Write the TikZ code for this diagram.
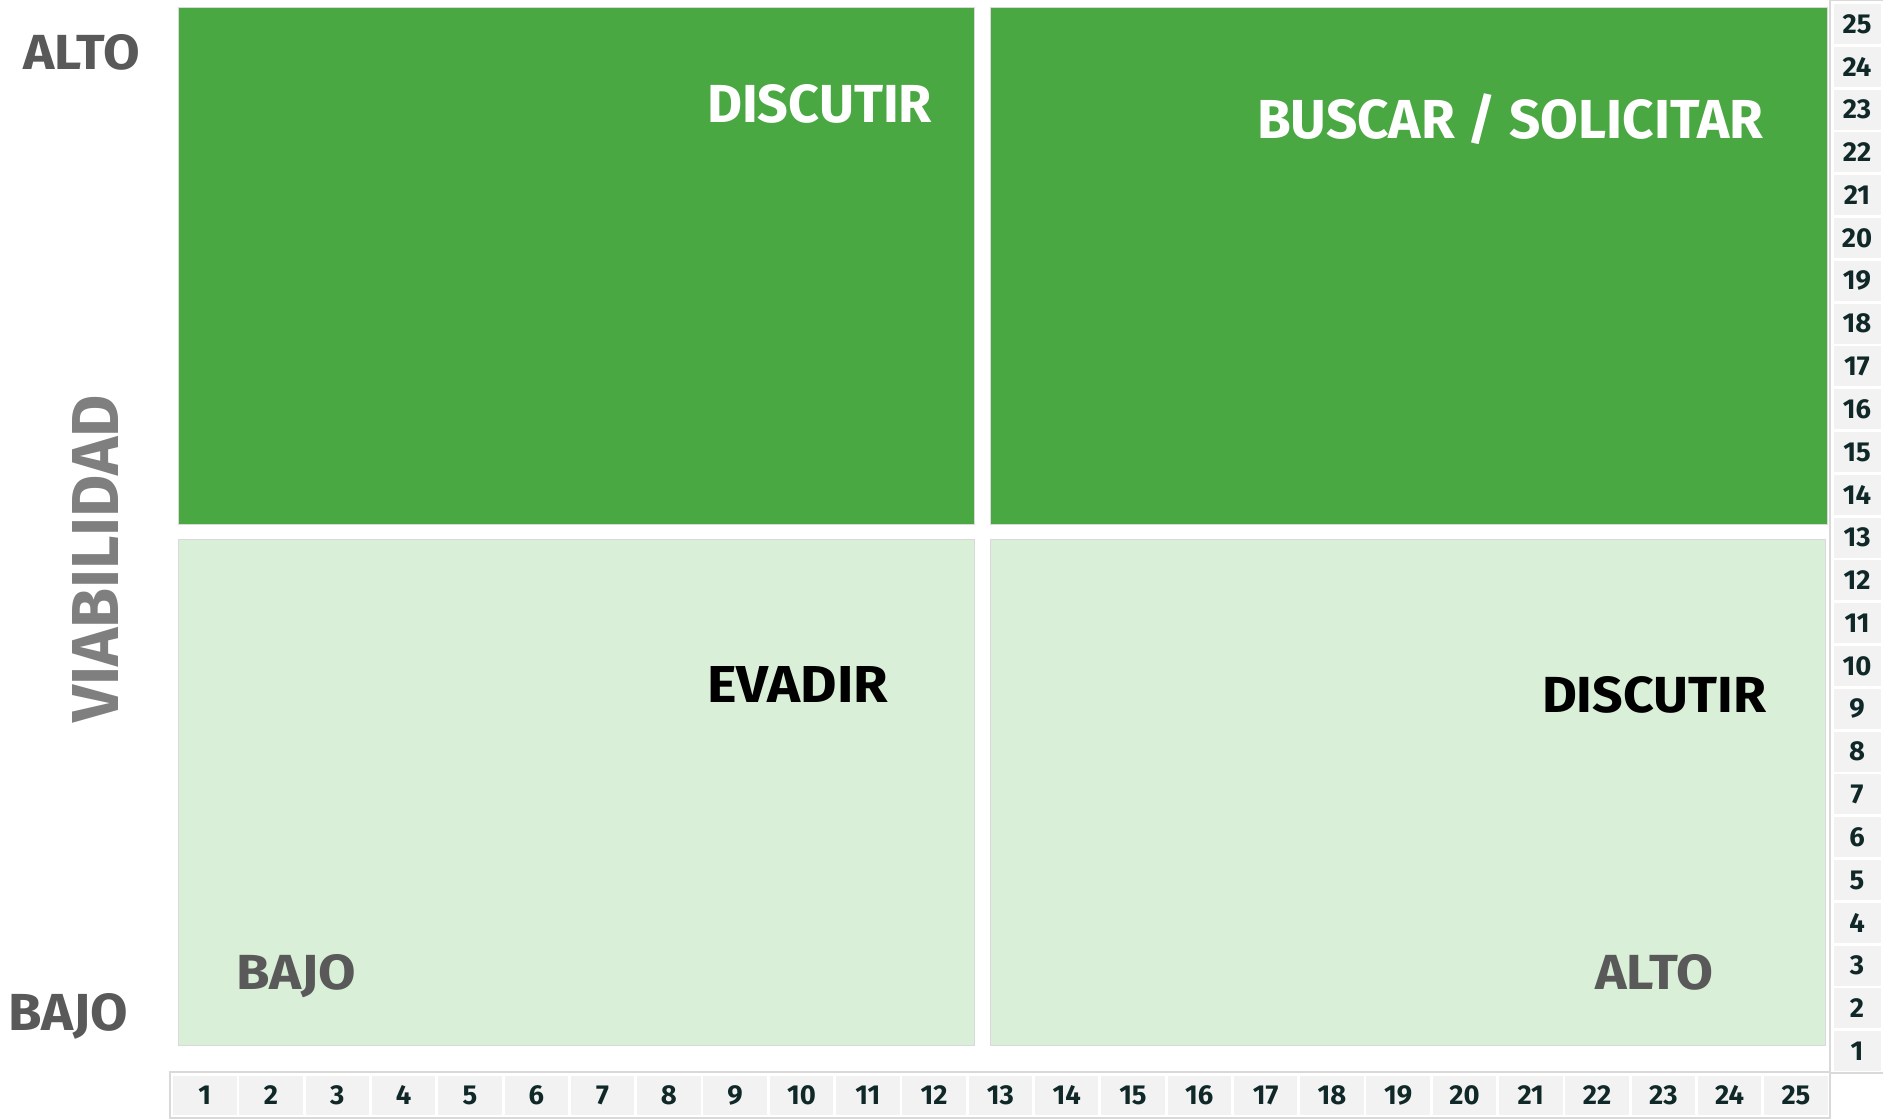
\documentclass[tikz,border=0pt]{standalone}
\usepackage{fontspec}
\setmainfont{Fira Sans}
\usepackage{graphicx}
\newlength\pxu
\setlength\pxu{0.1mm}
\newcommand{\fitbox}[3]{\resizebox{#1\pxu}{#2\pxu}{#3}}
\definecolor{dkgreen}{HTML}{4AA843}
\definecolor{ltgreen}{HTML}{DAEFD7}
\definecolor{axgray}{HTML}{595959}
\definecolor{vgray}{HTML}{7F7F7F}
\definecolor{numcol}{HTML}{102828}
\definecolor{cellgray}{HTML}{F2F2F2}
\definecolor{edgegray}{HTML}{D9D9D9}
\begin{document}
\begin{tikzpicture}[x=0.1mm,y=-0.1mm,
  quaddark/.style={fill=dkgreen,draw=edgegray,line width=0.1mm},
  quadlight/.style={fill=ltgreen,draw=edgegray,line width=0.1mm},
  lbl/.style={inner sep=0pt,outer sep=0pt,anchor=north west,font=\bfseries},
  cell/.style={fill=cellgray,draw=none,inner sep=0pt,text=numcol,
    font=\fontsize{7.8}{8}\selectfont\bfseries},
  frame/.style={draw=edgegray,line width=0.15mm,fill=white}]
\useasboundingbox (0,0) rectangle (1883,1120);
\fill[white] (0,0) rectangle (1883,1120);

% quadrants
\path[quaddark] (178,8) rectangle (974,525);
\path[quaddark] (990,8) rectangle (1827,525);
\path[quadlight] (178,540) rectangle (974,1046);
\path[quadlight] (990,540) rectangle (1825,1046);

% axis frames
\path[frame] (170,1072) rectangle (1830,1118);
\path[frame] (1830,0) rectangle (1885,1073);

% bottom axis cells
\foreach \i in {1,...,25}{
  \node[cell,minimum width=6.35mm,minimum height=3.9mm] (bx\i)
    at ({204.75+(\i-1)*66.3},1095.5) {\i};
}
% right axis cells
\foreach \n in {1,...,25}{
  \node[cell,minimum width=4.7mm,minimum height=4.0mm] (ry\n)
    at (1857,{24+(25-\n)*42.8}) {\n};
}

% side labels
\node[lbl,text=axgray] (altoL) at (23,35) {\fitbox{117}{35}{ALTO}};
\node[lbl,text=axgray] (bajoL) at (8,993) {\fitbox{120}{37}{BAJO}};
\node[lbl,text=vgray,rotate=90] (viab) at (72,723) {\fitbox{328}{46}{VIABILIDAD}};

% quadrant labels
\node[lbl,text=white] (disc1) at (707,85) {\fitbox{225}{38}{DISCUTIR}};
\node[lbl,text=white] (busc) at (1257,100) {\fitbox{506}{39}{BUSCAR \smash{/} SOLICITAR}};
\node[lbl,text=black] (evad) at (707,667) {\fitbox{181}{36}{EVADIR}};
\node[lbl,text=black] (disc2) at (1542,677) {\fitbox{224}{36}{DISCUTIR}};

% inner axis labels
\node[lbl,text=axgray] (bajoI) at (236,955) {\fitbox{120}{35}{BAJO}};
\node[lbl,text=axgray] (altoI) at (1595,955) {\fitbox{118}{35}{ALTO}};
\end{tikzpicture}
\end{document}
